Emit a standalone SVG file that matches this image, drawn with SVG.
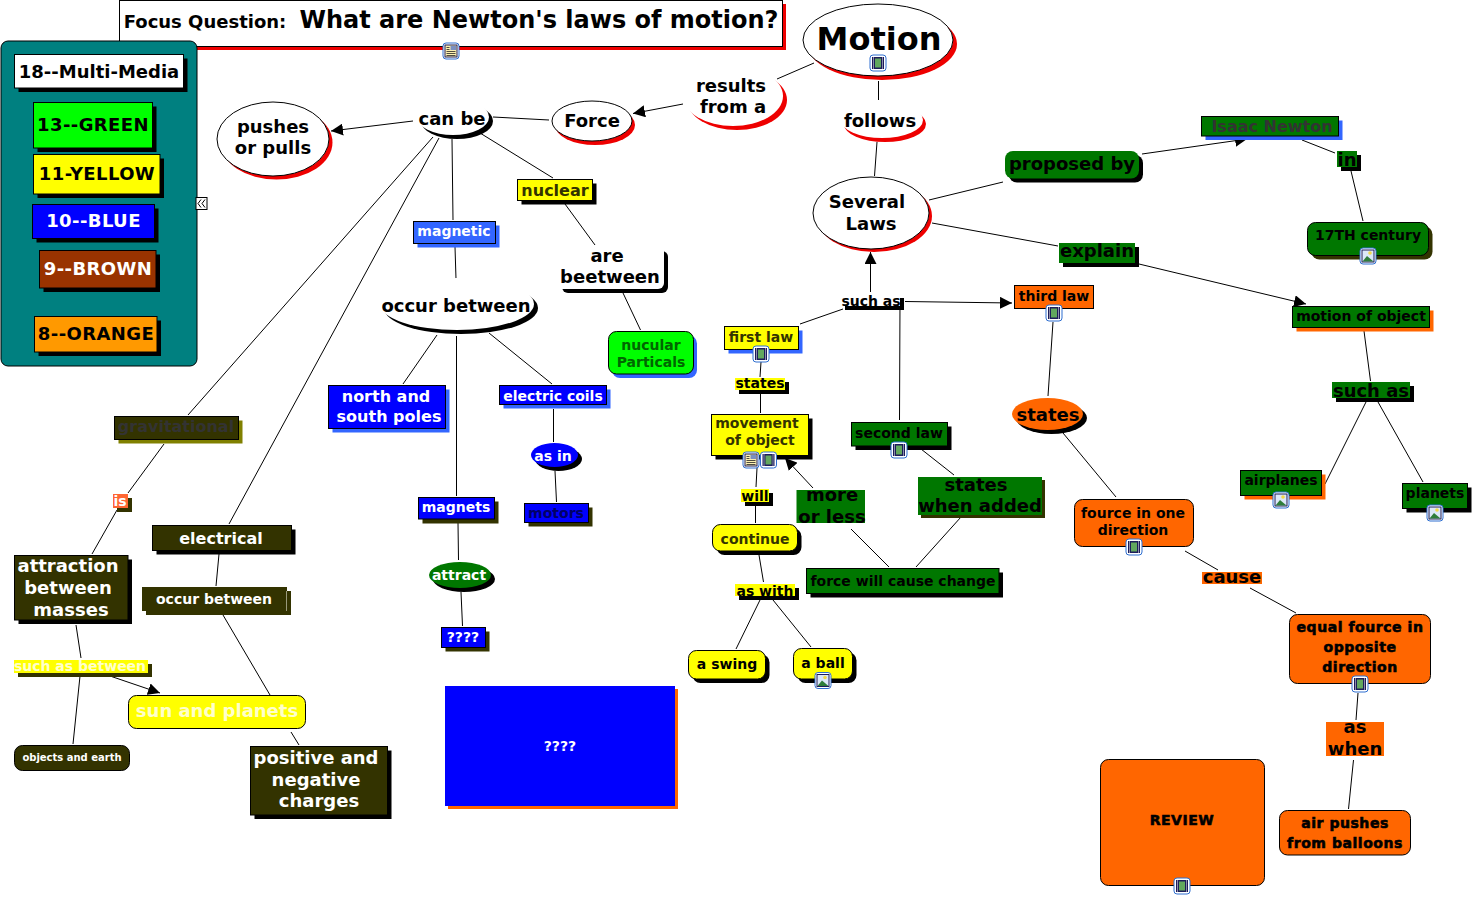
<svg xmlns="http://www.w3.org/2000/svg" xmlns:xlink="http://www.w3.org/1999/xlink" width="1475" height="898" viewBox="0 0 1475 898">
<style>
text{font-family:"DejaVu Sans","Liberation Sans",sans-serif;font-weight:700;text-anchor:middle;fill:#000}
.s10{font-size:10px}.s14{font-size:14px}.s16{font-size:16px}.s18{font-size:18px}.s24{font-size:24px}.s32{font-size:32px}
.w{fill:#fff}.o{fill:#333300}.dk{fill:#333333}.hv{stroke:#000;stroke-width:.6px;letter-spacing:.55px}
.ls{letter-spacing:.4px}
.b{stroke:#000;stroke-width:1}
.c line{stroke:#000;stroke-width:1;fill:none}
.arr{marker-end:url(#ah)}
.fy{fill:#ffff00}.fg{fill:#007700}.fb{fill:#0000ff}.fo{fill:#ff6600}.fl{fill:#3366ff}.fd{fill:#333300}.fk{fill:#000}.fr{fill:#ee0000}.fw{fill:#fff}
</style>
<defs>
<marker id="ah" markerUnits="userSpaceOnUse" markerWidth="14" markerHeight="12" refX="12" refY="6" orient="auto"><path d="M0 0L12 6L0 12z" fill="#000"/></marker>
<g id="film"><rect x="0.500" y="0.500" width="16" height="16" rx="3" fill="#fff" stroke="#2f6fd0"/><rect x="2.500" y="2.500" width="12" height="12" fill="#1d1d5a"/><rect x="5.500" y="4" width="6" height="9" fill="#62a85e"/><path d="M4 3v11M13 3v11" stroke="#fff" stroke-width="1" stroke-dasharray="1 1"/></g>
<g id="pic"><rect x="0.500" y="0.500" width="16" height="16" rx="3" fill="#fff" stroke="#2f6fd0"/><rect x="2.500" y="2.500" width="12" height="12" fill="#dce8f8" stroke="#1d1d5a"/><circle cx="10.500" cy="5.500" r="1.800" fill="#f2d84b"/><path d="M3 14L7.500 8.500L14 14z" fill="#2e7d3a"/></g>
<g id="doc"><rect x="0.500" y="0.500" width="16" height="16" rx="3" fill="#fff" stroke="#2f6fd0"/><rect x="2.500" y="2.500" width="12" height="12" fill="#fdf0b0" stroke="#1d1d5a"/><rect x="8" y="3.500" width="5.500" height="4" fill="#7a8fc0"/><path d="M4 9h9M4 11h9M4 13h9M4 5h3M4 7h3" stroke="#222" stroke-width=".8"/></g>
</defs>
<rect width="1475" height="898" fill="#fff"/>

<g id="connectors" class="c">
<line x1="413" y1="121" x2="331" y2="131" class="arr"/>
<line x1="549" y1="120" x2="493" y2="117"/>
<line x1="480" y1="133" x2="553" y2="178"/>
<line x1="452" y1="139" x2="453" y2="220"/>
<line x1="455" y1="247" x2="456" y2="279"/>
<line x1="433" y1="137" x2="188" y2="415"/>
<line x1="164" y1="444" x2="128" y2="493"/>
<line x1="117" y1="510" x2="92" y2="554"/>
<line x1="439" y1="138" x2="229" y2="524"/>
<line x1="219" y1="554" x2="216" y2="586"/>
<line x1="223" y1="615" x2="270" y2="695"/>
<line x1="291" y1="732" x2="299" y2="745"/>
<line x1="76" y1="625" x2="81" y2="658"/>
<line x1="80" y1="676" x2="73" y2="744"/>
<line x1="110" y1="676" x2="160" y2="693" class="arr"/>
<line x1="437" y1="335" x2="403" y2="384"/>
<line x1="456.500" y1="336" x2="456.500" y2="496"/>
<line x1="489" y1="333" x2="552" y2="384"/>
<line x1="553.500" y1="409" x2="553.500" y2="442"/>
<line x1="555" y1="471" x2="556.500" y2="502"/>
<line x1="458" y1="523" x2="458.500" y2="560"/>
<line x1="461" y1="592" x2="462.500" y2="626"/>
<line x1="565" y1="204" x2="595" y2="245"/>
<line x1="623" y1="293" x2="640.500" y2="330"/>
<line x1="683" y1="104" x2="633" y2="113.500" class="arr"/>
<line x1="777" y1="79" x2="814" y2="63"/>
<line x1="878.500" y1="81" x2="878.500" y2="100"/>
<line x1="877" y1="142" x2="874.500" y2="176"/>
<line x1="870.500" y1="292" x2="870.500" y2="252" class="arr"/>
<line x1="843" y1="309" x2="800" y2="324"/>
<line x1="905" y1="301.500" x2="1012" y2="303" class="arr"/>
<line x1="900" y1="300" x2="899.500" y2="420"/>
<line x1="929" y1="200" x2="1003" y2="182"/>
<line x1="1142" y1="154" x2="1247" y2="139" class="arr"/>
<line x1="1302" y1="140" x2="1335" y2="153"/>
<line x1="1351" y1="171" x2="1363" y2="221"/>
<line x1="932" y1="223" x2="1058" y2="246"/>
<line x1="1139" y1="264" x2="1306" y2="304" class="arr"/>
<line x1="1053" y1="322" x2="1048" y2="396"/>
<line x1="1063" y1="433" x2="1116" y2="497"/>
<line x1="1185" y1="551" x2="1218" y2="570"/>
<line x1="1250" y1="588" x2="1296" y2="613"/>
<line x1="1358" y1="693" x2="1356" y2="720"/>
<line x1="1353.500" y1="760" x2="1348.500" y2="809"/>
<line x1="1364" y1="331" x2="1370.500" y2="381"/>
<line x1="1366" y1="402" x2="1325" y2="484"/>
<line x1="1378" y1="402" x2="1423" y2="482"/>
<line x1="761" y1="362" x2="760" y2="377"/>
<line x1="760.500" y1="394" x2="760.500" y2="413"/>
<line x1="757" y1="468" x2="756" y2="487"/>
<line x1="755.500" y1="505" x2="755.500" y2="523"/>
<line x1="759" y1="555" x2="763.500" y2="582"/>
<line x1="760" y1="600" x2="736" y2="649"/>
<line x1="773" y1="600" x2="811" y2="647"/>
<line x1="813" y1="488" x2="785" y2="458" class="arr"/>
<line x1="851" y1="529" x2="889" y2="567"/>
<line x1="916" y1="567" x2="961" y2="517"/>
<line x1="921" y1="449" x2="954" y2="475"/>
</g>

<g id="focus"><rect x="123" y="4" width="663" height="46" class="fr"/><rect x="119.500" y="0.500" width="663" height="46" class="fw b"/><text class="s18" x="205" y="28">Focus Question:</text><text class="s24" x="539" y="28">What are Newton's laws of motion?</text><use href="#doc" x="442.500" y="42.500"/></g>

<g id="legend">
<rect x="1" y="41" width="196" height="325" rx="7" fill="#008080" stroke="#000"/>
<g id="leg18"><rect x="18.500" y="58.500" width="169" height="33.500" class="fk"/><rect x="14.500" y="54.500" width="169" height="33.500" class="fw b"/><text class="s18" x="99" y="78">18--Multi-Media</text></g>
<g id="leg13"><rect x="37.500" y="106.500" width="119" height="45.500" class="fk"/><rect x="33.500" y="102.500" width="119" height="45.500" fill="#00ff00" class="b"/><text class="s18 ls" x="93" y="131">13--GREEN</text></g>
<g id="leg11"><rect x="37.500" y="158.500" width="126.500" height="39.500" class="fk"/><rect x="33.500" y="154.500" width="126.500" height="39.500" class="fy b"/><text class="s18 ls" x="97" y="180">11-YELLOW</text></g>
<g id="leg10"><rect x="36.500" y="208.500" width="122" height="34" class="fk"/><rect x="32.500" y="204.500" width="122" height="34" class="fb b"/><text class="s18 w ls" x="93.500" y="227">10--BLUE</text></g>
<g id="leg9"><rect x="43.500" y="254.500" width="116.500" height="37.500" class="fk"/><rect x="39.500" y="250.500" width="116.500" height="37.500" fill="#993300" class="b"/><text class="s18 w ls" x="98" y="275">9--BROWN</text></g>
<g id="leg8"><rect x="38.500" y="320.500" width="122.500" height="35.500" class="fk"/><rect x="34.500" y="316.500" width="122.500" height="35.500" fill="#ff9900" class="b"/><text class="s18 ls" x="96" y="340">8--ORANGE</text></g>
<g id="collapse"><rect x="196" y="197.500" width="11" height="12" fill="#fff" stroke="#000"/><path d="M201 199.500L198 203.500L201 207.500M205 199.500L202 203.500L205 207.500" fill="none" stroke="#000"/></g>
</g>

<g id="n-pushes"><ellipse cx="276.500" cy="142.500" rx="56" ry="37" class="fr"/><ellipse cx="273" cy="139" rx="56" ry="37" class="fw b"/><text class="s18" x="273" y="133">pushes</text><text class="s18" x="273" y="154">or pulls</text></g>
<g id="n-canbe"><ellipse cx="457" cy="121" rx="36" ry="18" class="fk"/><ellipse cx="453" cy="117" rx="36" ry="18" class="fw"/><text class="s18" x="452" y="125">can be</text></g>
<g id="n-force"><ellipse cx="595" cy="125" rx="40" ry="20" class="fr"/><ellipse cx="592" cy="121" rx="40" ry="20" class="fw b"/><text class="s18" x="592" y="127">Force</text></g>
<g id="n-results"><ellipse cx="737" cy="100" rx="50" ry="30" class="fr"/><ellipse cx="733" cy="96" rx="50" ry="30" class="fw"/><text class="s18" x="731" y="92">results</text><text class="s18" x="733" y="113">from a</text></g>
<g id="n-motion"><ellipse cx="882" cy="44" rx="75" ry="36" class="fr"/><ellipse cx="878" cy="40" rx="75" ry="36" class="fw b"/><text class="s32" x="879" y="50">Motion</text><use href="#film" x="869.500" y="54.500"/></g>
<g id="n-follows"><ellipse cx="885" cy="124" rx="41" ry="18" class="fr"/><ellipse cx="882" cy="120" rx="41" ry="18" class="fw"/><text class="s18" x="880" y="127">follows</text></g>
<g id="n-several"><ellipse cx="874" cy="216" rx="58" ry="36" class="fr"/><ellipse cx="871" cy="213" rx="58" ry="36" class="fw b"/><text class="s18" x="867" y="208">Several</text><text class="s18" x="871" y="230">Laws</text></g>

<g id="n-nuclear"><rect x="521.500" y="183.500" width="75" height="21" class="fk"/><rect x="517.500" y="179.500" width="75" height="21" class="fy b"/><text class="s16 o" x="555" y="196">nuclear</text></g>
<g id="n-magnetic"><rect x="417.500" y="225.500" width="82" height="22" class="fl"/><rect x="413.500" y="221.500" width="82" height="22" class="fl b"/><text class="s14 w" x="454" y="236">magnetic</text></g>
<g id="n-are"><rect x="562" y="251" width="106" height="42" rx="6" class="fk"/><rect x="556" y="245" width="108" height="44" rx="6" class="fw"/><text class="s18" x="607" y="262">are</text><text class="s18" x="610" y="283">beetween</text></g>
<g id="n-occur1"><ellipse cx="461" cy="308" rx="77" ry="26" class="fk"/><ellipse cx="457" cy="304" rx="77" ry="26" class="fw"/><text class="s18" x="456" y="312">occur between</text></g>
<g id="n-nucular"><rect x="612" y="335.500" width="85" height="42.500" rx="8" class="fl"/><rect x="608.500" y="331.500" width="85" height="42.500" rx="8" fill="#00ff00" class="b"/><text class="s14" style="fill:#006600" x="651" y="350">nucular</text><text class="s14" style="fill:#006600" x="651" y="367">Particals</text></g>
<g id="n-north"><rect x="332.500" y="389.500" width="117" height="43" class="fl"/><rect x="328.500" y="385.500" width="117" height="43" class="fb b"/><text class="s16 w" x="386" y="402">north and</text><text class="s16 w" x="389" y="422">south poles</text></g>
<g id="n-coils"><rect x="503.500" y="389.500" width="107" height="19" class="fl"/><rect x="499.500" y="385.500" width="107" height="19" class="fb b"/><text class="s14 w" x="553" y="401">electric coils</text></g>
<g id="n-asin"><ellipse cx="558.500" cy="459" rx="23.500" ry="12" class="fk"/><ellipse cx="554.500" cy="455" rx="23.500" ry="12" class="fb"/><text class="s14 w" x="553" y="461">as in</text></g>
<g id="n-magnets"><rect x="422.500" y="501.500" width="76" height="22" class="fd"/><rect x="418.500" y="497.500" width="76" height="21.500" class="fb b"/><text class="s14 w" x="456" y="512">magnets</text></g>
<g id="n-motors"><rect x="528.500" y="507.500" width="64" height="19" class="fd"/><rect x="524.500" y="503.500" width="64" height="19" class="fb b"/><text class="s14" style="fill:#000066" x="556" y="518">motors</text></g>
<g id="n-attract"><ellipse cx="464" cy="579" rx="31" ry="13" class="fk"/><ellipse cx="460" cy="575" rx="31" ry="13" class="fg"/><text class="s14 w" x="459" y="580">attract</text></g>
<g id="n-q1"><rect x="445.500" y="631.500" width="44" height="20" class="fd"/><rect x="441.500" y="627.500" width="44" height="20" class="fb b"/><text class="s14 w" x="463" y="642">????</text></g>
<g id="n-q2"><rect x="448" y="689" width="230" height="120" class="fo"/><rect x="445" y="686" width="230" height="120" class="fb"/><text class="s14 w" x="560" y="751">????</text></g>

<g id="n-grav"><rect x="118.500" y="420.500" width="124" height="23" fill="#808000"/><rect x="114.500" y="416.500" width="124" height="23" class="fd b"/><text class="s16 dk" x="176" y="432">gravitational</text></g>
<g id="n-is"><rect x="117" y="498" width="15" height="14" class="fd"/><rect x="113" y="494" width="15" height="14" fill="#ff6633"/><text class="s14 w" x="120" y="506">is</text></g>
<g id="n-attraction"><rect x="18.500" y="559.500" width="113.500" height="64.500" class="fk"/><rect x="14.500" y="555.500" width="113.500" height="64.500" class="fd b"/><text class="s18 w" x="68" y="572">attraction</text><text class="s18 w" x="68" y="594">between</text><text class="s18 w" x="71" y="616">masses</text></g>
<g id="n-electrical"><rect x="156.500" y="529.500" width="139" height="25" class="fk"/><rect x="152.500" y="525.500" width="139" height="25" class="fd b"/><text class="s16 w" x="221" y="544">electrical</text></g>
<g id="n-occur2"><rect x="146" y="591" width="145" height="24" class="fd"/><rect x="142" y="587" width="145" height="24" class="fd"/><path d="M286.500 591v20" stroke="#99997a"/><text class="s14 w" x="214" y="604">occur between</text></g>
<g id="n-suchbetween"><rect x="18" y="664" width="134" height="13" class="fd"/><rect x="14" y="660" width="134" height="13" class="fy"/><text class="s14" style="fill:#ffffcc" x="80" y="671">such as between</text></g>
<g id="n-sun"><rect x="128.500" y="695.500" width="177" height="33" rx="8" class="fy b"/><text class="s18" style="fill:#ffffcc" x="217" y="717">sun and planets</text></g>
<g id="n-objects"><rect x="14.500" y="745.500" width="115" height="25" rx="8" class="fd b"/><text class="s10 w" x="72" y="761">objects and earth</text></g>
<g id="n-positive"><rect x="254.500" y="750.500" width="137" height="68.500" class="fk"/><rect x="250.500" y="746.500" width="137" height="68.500" class="fd b"/><text class="s18 w" x="316" y="764">positive and</text><text class="s18 w" x="316" y="786">negative</text><text class="s18 w" x="319" y="807">charges</text></g>

<g id="n-suchas1"><rect x="845" y="298" width="59" height="12" class="fk"/><rect x="841" y="294" width="59" height="12" class="fw"/><text class="s14" x="871" y="306">such as</text></g>
<g id="n-first"><rect x="728.500" y="330.500" width="74" height="23" class="fl"/><rect x="724.500" y="326.500" width="74" height="23" class="fy b"/><text class="s14 o" x="761" y="342">first law</text><use href="#film" x="752.500" y="345.500"/></g>
<g id="n-states1"><rect x="739" y="382" width="50" height="12" class="fk"/><rect x="735" y="378" width="50" height="12" class="fy"/><text class="s14" x="760" y="388">states</text></g>
<g id="n-movement"><rect x="715.500" y="418.500" width="97" height="41" class="fk"/><rect x="711.500" y="414.500" width="97" height="41" class="fy b"/><text class="s14 o" x="757" y="428">movement</text><text class="s14 o" x="760" y="445">of object</text><use href="#doc" x="742.500" y="451.500"/><use href="#film" x="760" y="451.500"/></g>
<g id="n-will"><rect x="745" y="493" width="28" height="13" class="fk"/><rect x="741" y="489" width="28" height="13" class="fy"/><text class="s14" x="755" y="501">will</text></g>
<g id="n-continue"><rect x="716.500" y="528.500" width="85" height="26.500" rx="8" class="fk"/><rect x="712.500" y="524.500" width="85" height="26.500" rx="8" class="fy b"/><text class="s14 o" x="755" y="544">continue</text></g>
<g id="n-aswith"><rect x="739" y="588" width="60" height="12" class="fk"/><rect x="735" y="584" width="60" height="12" class="fy"/><text class="s14" x="765" y="596">as with</text></g>
<g id="n-swing"><rect x="692.500" y="654.500" width="77" height="28.500" rx="8" class="fk"/><rect x="688.500" y="650.500" width="77" height="28.500" rx="8" class="fy b"/><text class="s14" x="727" y="669">a swing</text></g>
<g id="n-ball"><rect x="797.500" y="652.500" width="59" height="30.500" rx="8" class="fk"/><rect x="793.500" y="648.500" width="59" height="30.500" rx="8" class="fy b"/><text class="s14" x="823" y="668">a ball</text><use href="#pic" x="814.500" y="672"/></g>
<g id="n-more"><rect x="796.500" y="490" width="68.500" height="33" class="fg"/><text class="s18" x="832" y="501">more</text><text class="s18" x="832" y="523">or less</text></g>
<g id="n-second"><rect x="855.500" y="426.500" width="96" height="23.500" class="fk"/><rect x="851.500" y="422.500" width="96" height="23.500" class="fg b"/><text class="s14" x="899" y="438">second law</text><use href="#film" x="890.500" y="441.500"/></g>
<g id="n-stateswhen"><rect x="921" y="480" width="124" height="38" class="fd"/><rect x="918" y="477" width="124" height="38" class="fg"/><text class="s18" x="976" y="491">states</text><text class="s18" x="980" y="512">when added</text></g>
<g id="n-forcechange"><rect x="810.500" y="572.500" width="192.500" height="25" class="fk"/><rect x="806.500" y="568.500" width="192.500" height="25" class="fg b"/><text class="s14" x="903" y="586">force will cause change</text></g>

<g id="n-proposed"><rect x="1009" y="155" width="134" height="27.500" rx="8" class="fk"/><rect x="1005" y="151" width="134" height="27.500" rx="8" class="fg"/><text class="s18" x="1072" y="170">proposed by</text></g>
<g id="n-isaac"><rect x="1205.500" y="120.500" width="137" height="19.500" class="fl"/><rect x="1201.500" y="116.500" width="137" height="19.500" class="fg b"/><text class="s16 dk" x="1272" y="132">Isaac Newton</text></g>
<g id="n-in"><rect x="1341" y="155" width="20" height="16" class="fk"/><rect x="1337" y="151" width="20" height="16" class="fg"/><text class="s18" x="1347" y="166">in</text></g>
<g id="n-17th"><rect x="1311.500" y="226.500" width="121" height="33" rx="8" class="fd"/><rect x="1307.500" y="222.500" width="121" height="33" rx="8" class="fg b"/><text class="s14" x="1368" y="240">17TH century</text><use href="#pic" x="1359.500" y="247.500"/></g>
<g id="n-explain"><rect x="1063" y="247" width="76" height="20" class="fk"/><rect x="1059" y="243" width="76" height="20" class="fg"/><text class="s18" x="1097" y="257">explain</text></g>
<g id="n-third"><rect x="1014.500" y="285.500" width="79" height="23" class="fo b"/><text class="s14" x="1054" y="301">third law</text><use href="#film" x="1045.500" y="304.500"/></g>
<g id="n-motionobj"><rect x="1296.500" y="310.500" width="137" height="21" class="fo"/><rect x="1292.500" y="306.500" width="137" height="21" class="fg b"/><text class="s14" x="1361" y="321">motion of object</text></g>
<g id="n-suchas2"><rect x="1336" y="386" width="78" height="16" class="fk"/><rect x="1332" y="382" width="78" height="16" class="fg"/><text class="s18" x="1371" y="397">such as</text></g>
<g id="n-airplanes"><rect x="1244.500" y="474.500" width="81" height="25" class="fo"/><rect x="1240.500" y="470.500" width="81" height="25" class="fg b"/><text class="s14" x="1281" y="485">airplanes</text><use href="#pic" x="1272.500" y="491.500"/></g>
<g id="n-planets"><rect x="1406.500" y="487.500" width="65" height="25" class="fk"/><rect x="1402.500" y="483.500" width="65" height="25" class="fg b"/><text class="s14" x="1435" y="498">planets</text><use href="#pic" x="1426.500" y="504.500"/></g>
<g id="n-states2"><ellipse cx="1051.500" cy="418" rx="35.500" ry="16" class="fk"/><ellipse cx="1047.500" cy="414" rx="35.500" ry="16" class="fo"/><text class="s18" x="1048" y="421">states</text></g>
<g id="n-fource"><rect x="1074.500" y="499.500" width="119" height="47" rx="8" class="fo b"/><text class="s14" x="1133" y="518">fource in one</text><text class="s14" x="1133" y="535">direction</text><use href="#film" x="1125.500" y="538.500"/></g>
<g id="n-cause"><rect x="1202" y="572" width="60" height="12" class="fo"/><text class="s18" x="1232" y="583">cause</text></g>
<g id="n-equal"><rect x="1289.500" y="614.500" width="141" height="69" rx="8" class="fo b"/><text class="s14 hv" x="1360" y="632">equal fource in</text><text class="s14 hv" x="1360" y="652">opposite</text><text class="s14 hv" x="1360" y="672">direction</text><use href="#film" x="1351.500" y="675.500"/></g>
<g id="n-aswhen"><rect x="1326" y="722" width="58" height="34" class="fo"/><text class="s18" x="1355" y="733">as</text><text class="s18" x="1355" y="755">when</text></g>
<g id="n-review"><rect x="1100.500" y="759.500" width="164" height="126" rx="8" class="fo b"/><text class="s14 hv" x="1182" y="825">REVIEW</text><use href="#film" x="1173.500" y="877.500"/></g>
<g id="n-air"><rect x="1279.500" y="810.500" width="131" height="44.500" rx="8" class="fo b"/><text class="s14 hv" x="1345" y="828">air pushes</text><text class="s14 hv" x="1345" y="848">from balloons</text></g>
</svg>
